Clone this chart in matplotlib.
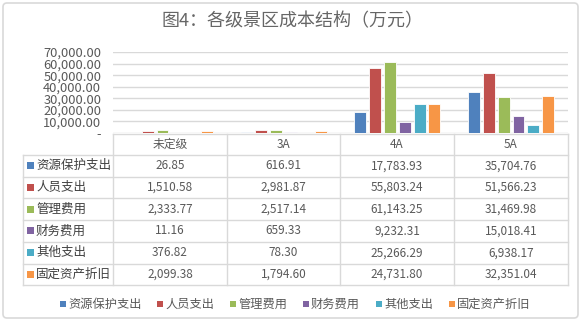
import numpy as np
import matplotlib.pyplot as plt
from matplotlib.patches import Rectangle, FancyBboxPatch

plt.rcParams['font.family'] = ['Noto Sans CJK SC', 'DejaVu Sans']

# =========================
# DATA
# =========================

title = "图4：各级景区成本结构（万元）"
levels = ["未定级", "3A", "4A", "5A"]
items = ["资源保护支出", "人员支出", "管理费用", "财务费用", "其他支出", "固定资产折旧"]

res_protect = [26.85, 616.91, 17783.93, 35704.76]
staff = [1510.58, 2981.87, 55803.24, 51566.23]
manage = [2333.77, 2517.14, 61143.25, 31469.98]
finance = [11.16, 659.33, 9232.31, 15018.41]
other = [376.82, 78.30, 25266.29, 6938.17]
depreciation = [2099.38, 1794.60, 24731.80, 32351.04]

series = [res_protect, staff, manage, finance, other, depreciation]
colors = ["#4F81BD", "#C0504D", "#9BBB59", "#8064A2", "#4BACC6", "#F79646"]
yticks = [0, 10000, 20000, 30000, 40000, 50000, 60000, 70000]

# =========================
# FIGURE
# =========================

W, H = 583, 324
fig = plt.figure(figsize=(W / 100, H / 100), dpi=100)

# overlay in pixel coords for border / table / legend
ov = fig.add_axes([0, 0, 1, 1])
ov.set_xlim(0, W)
ov.set_ylim(H, 0)
ov.axis("off")

ov.add_patch(FancyBboxPatch((3, 3), W - 8, H - 9, boxstyle="round,pad=0,rounding_size=4",
                            fc="white", ec="#D9D9D9", lw=1.2))

ov.text(W / 2 + 1, 21, title, ha="center", va="center", fontsize=13, color="#666666")

# plot area
x_left, x_right = 113, 568
y_top, y_zero = 52, 133
ax = fig.add_axes([x_left / W, 1 - y_zero / H, (x_right - x_left) / W, (y_zero - y_top) / H])
ax.set_xlim(-0.5, len(levels) - 0.5)
ax.set_ylim(0, 70000)
ax.set_yticks(yticks)
ax.set_yticklabels(["-"] + [f"{v:,.2f}" for v in yticks[1:]], fontsize=9.3, color="#595959")
ax.tick_params(axis="y", length=0, pad=8.5)
ax.set_xticks([])
for s in ax.spines.values():
    s.set_visible(False)
ax.grid(axis="y", color="#D9D9D9", lw=1)
ax.set_axisbelow(True)

x = np.arange(len(levels))
pitch = 0.13
width = 0.105
for j, vals in enumerate(series):
    ax.bar(x + (j - 2.5) * pitch, vals, width, color=colors[j], edgecolor="white", lw=0.6)

# =========================
# DATA TABLE
# =========================

col_edges = [113, 227, 340, 454, 568]
tab_left = 23
row_top = 134
header_h = 21
row_h = 21.7
line_c = "#D9D9D9"

n_rows = len(items)
tab_bottom = row_top + header_h + n_rows * row_h

# horizontal lines
ov.plot([col_edges[0], col_edges[-1]], [row_top, row_top], color=line_c, lw=1)
for r in range(n_rows + 1):
    yy = row_top + header_h + r * row_h
    ov.plot([tab_left, col_edges[-1]], [yy, yy], color=line_c, lw=1)
# vertical lines
ov.plot([tab_left, tab_left], [row_top + header_h, tab_bottom], color=line_c, lw=1)
for xe in col_edges:
    ov.plot([xe, xe], [row_top, tab_bottom], color=line_c, lw=1)

# header
for i, lv in enumerate(levels):
    cx = (col_edges[i] + col_edges[i + 1]) / 2
    ov.text(cx, row_top + header_h / 2, lv, ha="center", va="center", fontsize=8.5, color="#595959")

# rows
for r, name in enumerate(items):
    cy = row_top + header_h + (r + 0.5) * row_h
    ov.add_patch(Rectangle((27, cy - 3.5), 7, 7, color=colors[r], lw=0))
    ov.text(36, cy, name, ha="left", va="center", fontsize=9, color="#404040")
    for i in range(len(levels)):
        cx = (col_edges[i] + col_edges[i + 1]) / 2
        ov.text(cx, cy, f"{series[r][i]:,.2f}", ha="center", va="center", fontsize=8.5, color="#595959")

# =========================
# LEGEND
# =========================

leg_x = [60, 157, 230, 303, 376, 449]
leg_y = 304
for j, name in enumerate(items):
    ov.add_patch(Rectangle((leg_x[j], leg_y - 3), 6, 6, color=colors[j], lw=0))
    ov.text(leg_x[j] + 8, leg_y, name, ha="left", va="center", fontsize=8.8, color="#595959")

fig.savefig("out.png", dpi=100)
